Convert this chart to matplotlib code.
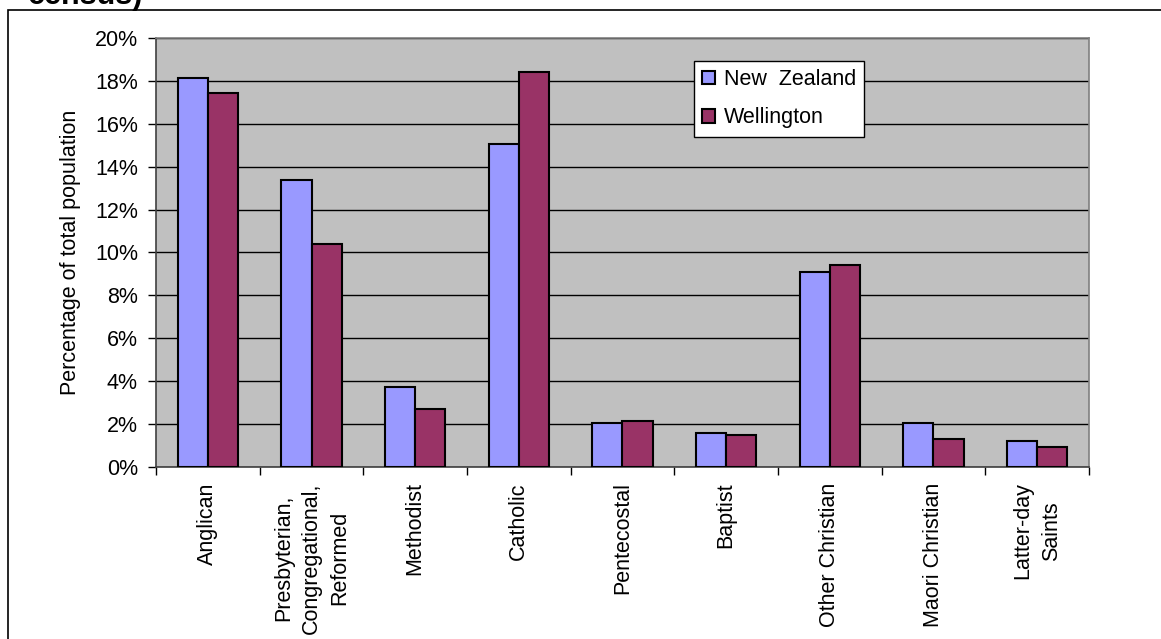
import matplotlib
matplotlib.use("Agg")
import matplotlib.pyplot as plt
from matplotlib.patches import Rectangle
from matplotlib.ticker import FuncFormatter, MultipleLocator
import numpy as np

categories = ["Anglican", "Presbyterian,\nCongregational,\nReformed", "Methodist",
              "Catholic", "Pentecostal", "Baptist", "Other Christian",
              "Maori Christian", "Latter-day\nSaints"]
new_zealand = [18.15, 13.4, 3.72, 15.07, 2.04, 1.59, 9.1, 2.04, 1.2]
wellington = [17.42, 10.41, 2.69, 18.43, 2.13, 1.48, 9.41, 1.3, 0.91]

plt.rcParams['font.family'] = ['Liberation Sans', 'DejaVu Sans']
fs = 15.5

W, H = 1161, 639
fig = plt.figure(figsize=(W / 100, H / 100), dpi=100)
ax = fig.add_axes([156 / W, 1 - 467 / H, 933 / W, 429 / H])

# outer chart frame (runs off the right and bottom edges)
fig.add_artist(Rectangle((8 / W, -0.2), 1.5, 1.2 - 9.5 / H,
                         transform=fig.transFigure, fill=False,
                         edgecolor='black', linewidth=1.2))
fig.text(28 / W, 1 - 4 / H, "census)", fontsize=22, fontweight='bold',
         ha='left', va='baseline')

x = np.arange(1, len(categories) + 1)
bw = 0.29
ax.set_facecolor('#C0C0C0')
ax.bar(x - bw / 2, new_zealand, bw, color='#9999FF', edgecolor='black',
       linewidth=1.5, label='New  Zealand', zorder=3)
ax.bar(x + bw / 2, wellington, bw, color='#993366', edgecolor='black',
       linewidth=1.5, label='Wellington', zorder=3)

ax.set_xlim(0.5, len(categories) + 0.5)
ax.set_ylim(0, 20)
ax.yaxis.set_major_locator(MultipleLocator(2))
ax.yaxis.set_major_formatter(FuncFormatter(lambda v, p: f"{v:.0f}%"))
ax.grid(axis='y', color='black', linewidth=1.0, zorder=1)

ax.set_xticks(x)
ax.set_xticklabels(categories, rotation=90, fontsize=fs, ha='center', va='top',
                   multialignment='center', linespacing=1.45)
ax.set_xticks(np.arange(0.5, len(categories) + 1), minor=True)
ax.tick_params(axis='x', which='major', length=0, pad=11)
ax.tick_params(axis='x', which='minor', length=6, direction='out', width=1)
ax.tick_params(axis='y', length=6, direction='out', width=1, labelsize=fs, pad=7)

ax.set_ylabel("Percentage of total population", fontsize=fs, labelpad=10)

for s in ['left', 'bottom']:
    ax.spines[s].set_color('#404040')
    ax.spines[s].set_linewidth(1.2)
for s in ['top', 'right']:
    ax.spines[s].set_color('#808080')
    ax.spines[s].set_linewidth(1.2)

leg = ax.legend(loc='upper left', bbox_to_anchor=((694 - 156) / 933, (467 - 61) / 429),
                borderaxespad=0, fontsize=fs, frameon=True, fancybox=False,
                handlelength=0.6, handleheight=0.6, handletextpad=0.4,
                labelspacing=0.8, borderpad=0.38)
leg.get_frame().set_edgecolor('black')
leg.get_frame().set_facecolor('white')
leg.get_frame().set_alpha(1)
leg.get_frame().set_linewidth(1.0)

fig.savefig("out.png", dpi=100)
